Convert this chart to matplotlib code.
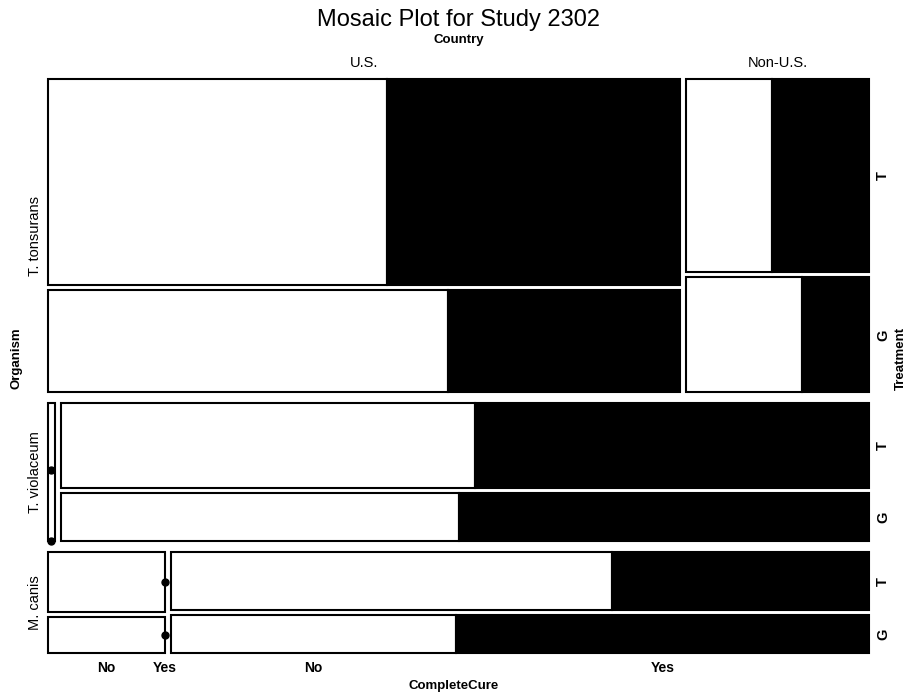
import matplotlib
matplotlib.use("Agg")
import matplotlib.pyplot as plt
from matplotlib.patches import Rectangle

plt.rcParams['font.family'] = ['Liberation Sans', 'DejaVu Sans']

# levels of the four factors
organisms = ["T. tonsurans", "T. violaceum", "M. canis"]
countries = ["U.S.", "Non-U.S."]
treatments = ["T", "G"]
cures = ["No", "Yes"]

# counts per organism and country: rows = Treatment (T, G), cols = CompleteCure (No, Yes)
tonsurans_us = [[126, 109], [74, 43]]
tonsurans_nonus = [[30, 34], [24, 14]]
violaceum_us = [[0, 0], [0, 0]]
violaceum_nonus = [[65, 62], [36, 37]]
canis_us = [[13, 0], [8, 0]]
canis_nonus = [[48, 28], [20, 29]]

counts = [[tonsurans_us, tonsurans_nonus],
          [violaceum_us, violaceum_nonus],
          [canis_us, canis_nonus]]

# layout in pixel units
X0, Y0, W, H = 48, 79, 821, 574
gap_org = 11
gap_cty = 6
gap_trt = 5
zero_w = 7
lw = 1.5

fig = plt.figure(figsize=(9.12, 6.96), dpi=100)
ax = fig.add_axes([0, 0, 1, 1])
ax.set_xlim(0, 912)
ax.set_ylim(696, 0)
ax.axis('off')


def total(block):
    return sum(sum(r) for r in block)


org_tot = [sum(total(c) for c in row) for row in counts]
N = sum(org_tot)
avail_h = H - gap_org * (len(organisms) - 1)

y = Y0
for i, org in enumerate(organisms):
    h = avail_h * org_tot[i] / N
    cty_tot = [total(c) for c in counts[i]]
    nzero = sum(1 for t in cty_tot if t == 0)
    avail_w = W - gap_cty * (len(countries) - 1) - zero_w * nzero
    x = X0
    for j, cty in enumerate(countries):
        block = counts[i][j]
        ct = cty_tot[j]
        if ct == 0:
            w = zero_w
            ax.add_patch(Rectangle((x, y), w, h, facecolor='white',
                                   edgecolor='black', lw=lw))
            sub = (h - gap_trt) / len(treatments)
            yy = y
            for k in range(len(treatments)):
                ax.plot(x + w / 2, yy + sub, 'o', color='black', ms=5)
                yy += sub + gap_trt
        else:
            w = avail_w * ct / org_tot[i]
            trt_tot = [sum(r) for r in block]
            avail_t = h - gap_trt * (len(treatments) - 1)
            yy = y
            for k, trt in enumerate(treatments):
                th = avail_t * trt_tot[k] / ct
                xx = x
                for m, cure in enumerate(cures):
                    cw = w * block[k][m] / trt_tot[k]
                    if block[k][m] == 0:
                        ax.plot(xx, yy + th / 2, 'o', color='black', ms=5, zorder=5)
                    else:
                        fc = 'white' if cure == "No" else 'black'
                        ax.add_patch(Rectangle((xx, yy), cw, th, facecolor=fc,
                                               edgecolor='black', lw=lw))
                    # cure labels from the bottom cell of the last organism
                    if i == len(organisms) - 1 and k == len(treatments) - 1:
                        ax.text(xx + cw / 2, 668, cure, ha='center', va='center',
                                fontsize=10, fontweight='bold')
                    xx += cw
                # treatment labels from the rightmost column
                if j == len(countries) - 1:
                    ax.text(883, yy + th / 2, trt, ha='center', va='center',
                            rotation=90, fontsize=10.5, fontweight='bold')
                yy += th + gap_trt
        if i == 0:
            ax.text(x + w / 2, 63, cty, ha='center', va='center', fontsize=10.5)
        x += w + gap_cty
    ax.text(35, y + h / 2, org, ha='center', va='center', rotation=90, fontsize=10.5)
    y += h + gap_org

ax.set_title("")
ax.text(X0 + W / 2, 20, "Mosaic Plot for Study 2302", ha='center', va='center', fontsize=17)
ax.text(X0 + W / 2, 40, "Country", ha='center', va='center', fontsize=9.5, fontweight='bold')
ax.text(X0 + W / 2 - 5, 686, "CompleteCure", ha='center', va='center', fontsize=9.5, fontweight='bold')
ax.text(17, Y0 + H / 2 - 8, "Organism", ha='center', va='center', rotation=90,
        fontsize=9.5, fontweight='bold')
ax.text(901, Y0 + H / 2 - 8, "Treatment", ha='center', va='center', rotation=90,
        fontsize=9.5, fontweight='bold')

fig.savefig("out.png", dpi=100)
